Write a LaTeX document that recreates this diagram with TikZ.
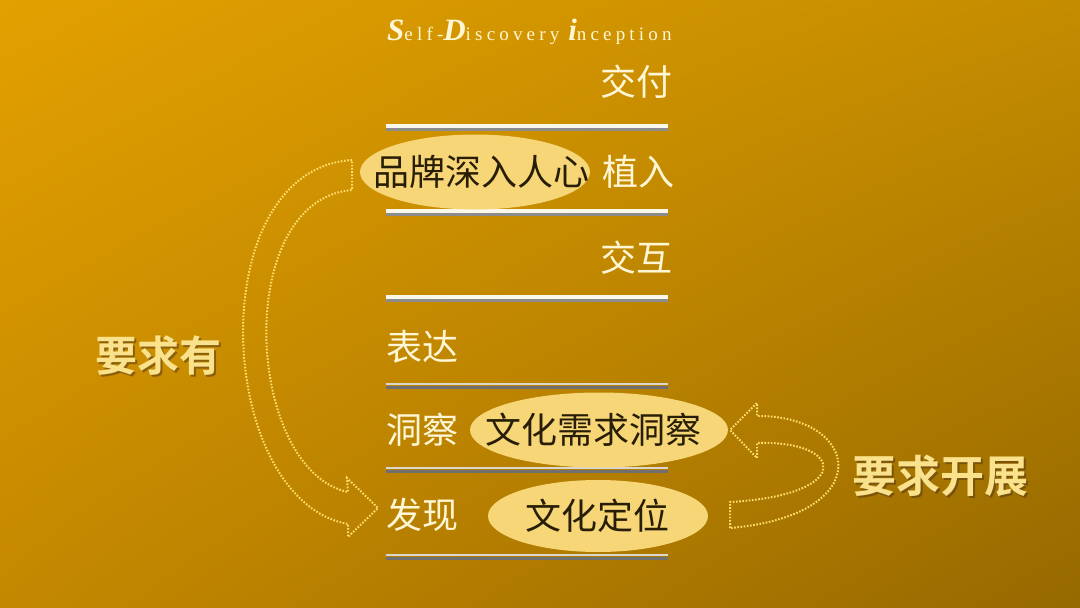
\documentclass[tikz,border=0pt]{standalone}
\usepackage{fontspec}
\newfontfamily\cjk{Noto Sans CJK SC}
\newfontfamily\cjkb{Noto Sans CJK SC Bold}
\newfontfamily\titlefont[LetterSpace=22]{Liberation Serif}
\newfontfamily\titlebig{Liberation Serif}
\usetikzlibrary{shapes.geometric,shadings}
\definecolor{bgTL}{RGB}{227,160,0}
\definecolor{bgTR}{RGB}{196,140,0}
\definecolor{bgBL}{RGB}{196,136,0}
\definecolor{bgBR}{RGB}{150,105,0}
\definecolor{cream}{RGB}{255,246,214}
\definecolor{ellfill}{RGB}{247,214,120}
\definecolor{darktext}{RGB}{40,30,5}
\definecolor{dotcol}{RGB}{255,222,110}
\definecolor{labcol}{RGB}{250,226,140}
\definecolor{barlight}{RGB}{250,248,235}
\definecolor{bargrey}{RGB}{140,140,140}
\tikzset{
  lbl/.style={font=\cjk\fontsize{36}{36}\selectfont, text=cream, inner sep=0pt},
  ell/.style={ellipse, fill=ellfill, inner sep=0pt},
  elltext/.style={font=\cjk\fontsize{36}{36}\selectfont, text=darktext, inner sep=0pt},
  dotarrow/.style={draw=dotcol, line width=2pt, dash pattern=on 1.6pt off 1.6pt},
  biglab/.style={font=\cjkb\fontsize{42}{42}\selectfont, text=labcol, inner sep=0pt},
  shadowlab/.style={font=\cjkb\fontsize{42}{42}\selectfont, text=black!60!brown, opacity=0.5, inner sep=0pt}
}
\newcommand{\lightbar}[1]{%
  \draw[bargrey, line width=3pt] (386,#1+2) -- (668,#1+2);
  \draw[barlight, line width=3.5pt] (386,#1-1) -- (668,#1-1);}
\newcommand{\greybar}[1]{%
  \draw[bargrey!80!black, line width=3pt] (386,#1+2) -- (668,#1+2);
  \draw[barlight!70!bargrey, line width=2pt] (386,#1-1.5) -- (668,#1-1.5);}
\begin{document}
\begin{tikzpicture}[x=1pt,y=-1pt]
\useasboundingbox (0,0) rectangle (1080,608);
\shade[upper left=bgTL, upper right=bgTR, lower left=bgBL, lower right=bgBR] (0,0) rectangle (1080,608);

% title
\node[anchor=base west, inner sep=0pt, text=cream] (title) at (387,40)
 {\titlebig\bfseries\itshape\fontsize{31}{31}\selectfont S\titlefont\upshape\mdseries\fontsize{19}{19}\selectfont elf-\titlebig\bfseries\itshape\fontsize{31}{31}\selectfont D\titlefont\upshape\mdseries\fontsize{19}{19}\selectfont iscovery\ \titlebig\bfseries\itshape\fontsize{31}{31}\selectfont i\titlefont\upshape\mdseries\fontsize{19}{19}\selectfont nception};

% bars
\lightbar{127}
\lightbar{212}
\lightbar{298}
\greybar{385}
\greybar{469}
\greybar{556}

% ellipses
\node[ell, minimum width=230, minimum height=75] (e1) at (475,172) {};
\node[ell, minimum width=258, minimum height=75] (e2) at (599,430) {};
\node[ell, minimum width=220, minimum height=72] (e3) at (598,516) {};
\node[elltext] (t1) at (481,172) {品牌深入人心};
\node[elltext] (t2) at (593,430) {文化需求洞察};
\node[elltext] (t3) at (597,516) {文化定位};

% stage labels
\node[lbl, anchor=east] (jf) at (673,82) {交付};
\node[lbl, anchor=east] (zr) at (675,172) {植入};
\node[lbl, anchor=east] (jh) at (673,258) {交互};
\node[lbl, anchor=west] (bd) at (386,347) {表达};
\node[lbl, anchor=west] (dc) at (386,430) {洞察};
\node[lbl, anchor=west] (fx) at (386,515) {发现};

% left curved arrow
\draw[dotarrow] (352,160) .. controls (200,170) and (215,500) .. (348,524)
  -- (348,537) -- (378,508) -- (347,478) -- (348,492)
  .. controls (245,470) and (232,200) .. (352,190) -- cycle;
% right curved arrow
\draw[dotarrow] (730,528) -- (730,502) .. controls (855,495) and (845,440) .. (757,443)
  -- (757,458) -- (730,430) -- (757,403) -- (757,416)
  .. controls (860,415) and (880,515) .. (730,528) -- cycle;

% side labels
\node[shadowlab] at (160,358) {要求有};
\node[biglab] (yqy) at (158,356) {要求有};
\node[shadowlab, font=\cjkb\fontsize{44}{44}\selectfont] at (942,478) {要求开展};
\node[biglab, font=\cjkb\fontsize{44}{44}\selectfont] (yqkz) at (940,476) {要求开展};
\end{tikzpicture}
\end{document}
